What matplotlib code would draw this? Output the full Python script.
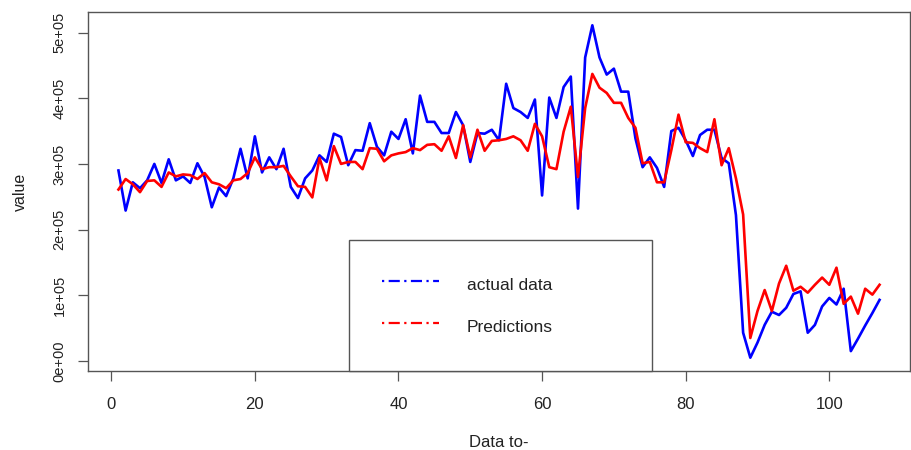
import numpy as np
import matplotlib
matplotlib.use("Agg")
import matplotlib.pyplot as plt

# values
actual = [290000, 229000, 272000, 263000, 275000, 300000, 271000, 307000, 275000, 281000,
          271000, 301000, 280000, 234000, 264000, 251000, 278000, 323000, 278000, 342000,
          287000, 310000, 292000, 323000, 265000, 248000, 278000, 290000, 313000, 303000,
          346000, 341000, 298000, 321000, 320000, 362000, 326000, 313000, 349000, 338000,
          368000, 316000, 404000, 364000, 364000, 347000, 347000, 379000, 359000, 303000,
          347000, 346000, 352000, 336000, 422000, 385000, 379000, 370000, 398000, 252000,
          401000, 370000, 417000, 433000, 232000, 462000, 511000, 462000, 436000, 445000,
          410000, 410000, 339000, 295000, 310000, 294000, 265000, 350000, 355000, 336000,
          312000, 344000, 352000, 352000, 309000, 301000, 222000, 43000, 5000, 28000,
          55000, 75000, 70000, 81000, 102000, 106000, 43000, 55000, 83000, 96000,
          86000, 110000, 15000, 34000, 54000, 73000, 93000]

predictions = [261000, 277000, 269000, 257000, 274000, 275000, 265000, 287000, 281000, 284000,
               283000, 277000, 286000, 272000, 269000, 263000, 275000, 277000, 286000, 310000,
               292000, 295000, 295000, 297000, 281000, 266000, 265000, 249000, 309000, 275000,
               327000, 300000, 303000, 303000, 292000, 324000, 323000, 304000, 313000, 316000,
               318000, 324000, 321000, 329000, 330000, 320000, 342000, 309000, 359000, 310000,
               352000, 320000, 335000, 336000, 338000, 342000, 336000, 320000, 361000, 342000,
               295000, 292000, 349000, 387000, 280000, 385000, 437000, 416000, 408000, 393000,
               393000, 370000, 355000, 301000, 303000, 272000, 272000, 321000, 375000, 333000,
               332000, 324000, 318000, 368000, 298000, 324000, 278000, 223000, 35000, 76000,
               108000, 76000, 118000, 145000, 107000, 113000, 104000, 116000, 127000, 116000,
               142000, 87000, 98000, 72000, 110000, 101000, 116000]

x_ticks = [0, 20, 40, 60, 80, 100]
y_ticks = [0, 100000, 200000, 300000, 400000, 500000]
y_tick_labels = ["0e+00", "1e+05", "2e+05", "3e+05", "4e+05", "5e+05"]

plt.rcParams['font.family'] = ['Liberation Sans', 'DejaVu Sans']

idx = np.arange(1, len(actual) + 1)

fig = plt.figure(figsize=(9.12, 4.5), dpi=100)
ax = fig.add_axes([88 / 912, 1 - 371 / 450, (910 - 88) / 912, (371 - 12) / 450])

ax.plot(idx, actual, color="#0000ff", lw=1.9, label="actual data")
ax.plot(idx, predictions, color="#ff0000", lw=1.9, label="Predictions")

# R style axis ranges (4% padding)
allv = actual + predictions
xr = idx.max() - idx.min()
yr = max(allv) - min(allv)
ax.set_xlim(idx.min() - 0.04 * xr, idx.max() + 0.04 * xr)
ax.set_ylim(min(allv) - 0.04 * yr, max(allv) + 0.04 * yr)

ax.set_xticks(x_ticks)
ax.set_yticks(y_ticks)
ax.set_yticklabels(y_tick_labels, rotation=90, va="center")
ax.tick_params(direction="out", length=7.5, width=0.9, color="#555555",
               labelcolor="#222222")
ax.tick_params(axis="x", pad=11, labelsize=12)
ax.tick_params(axis="y", pad=8, labelsize=10.5)
for s in ax.spines.values():
    s.set_color("#555555")
    s.set_linewidth(1.0)

ax.set_xlabel("Data to-", color="#222222", fontsize=12, labelpad=17)
ax.set_ylabel("value", color="#222222", fontsize=11.5, labelpad=18)

# legend with dash-dot handles like the R one
h1, = ax.plot([], [], color="#0000ff", lw=1.6, ls=(0, (1, 2, 5, 2)))
h2, = ax.plot([], [], color="#ff0000", lw=1.6, ls=(0, (1, 2, 5, 2)))
leg = ax.legend([h1, h2], ["actual data", "Predictions"],
                loc="lower left", bbox_to_anchor=(0.3175, 0.0, 0.3686, 0.362),
                mode="expand", borderaxespad=0, borderpad=1.9, labelspacing=1.04,
                handleheight=1.72, handlelength=3.3, handletextpad=1.6,
                fancybox=False, framealpha=1, edgecolor="#555555", fontsize=12.5)
leg.get_frame().set_linewidth(1.0)
for t in leg.get_texts():
    t.set_color("#222222")

fig.savefig("out.png", dpi=100)
